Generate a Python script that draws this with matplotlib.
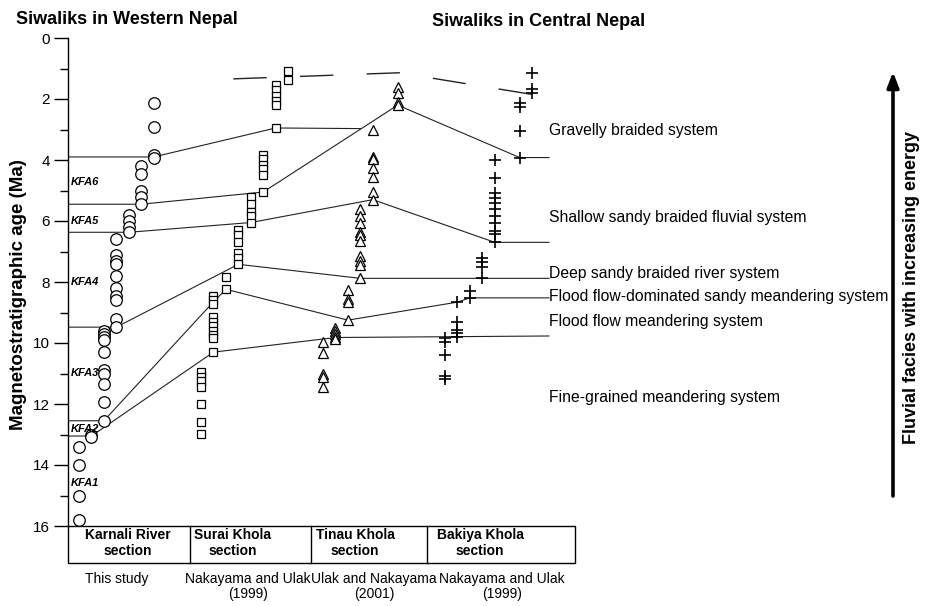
import matplotlib
matplotlib.use("Agg")
import matplotlib.pyplot as plt

plt.rcParams['font.family'] = ['Liberation Sans', 'DejaVu Sans']

# ---------------- data (ages in Ma) ----------------
# each section: list of sub-columns (left -> right), each a list of ages
karnali_cols = [
    [13.4, 14.0, 15.0, 15.8],
    [13.0, 13.07],
    [9.6, 9.7, 9.8, 9.9, 10.3, 10.9, 11.0, 11.35, 11.95, 12.55],
    [6.6, 7.1, 7.3, 7.4, 7.8, 8.2, 8.45, 8.6, 9.2, 9.48],
    [5.8, 6.0, 6.2, 6.37],
    [4.2, 4.45, 5.0, 5.2, 5.45],
    [2.12, 2.93, 3.82, 3.95],
]
surai_cols = [
    [10.95, 11.1, 11.25, 11.45, 12.0, 12.6, 12.98],
    [8.47, 8.6, 8.72, 9.15, 9.3, 9.45, 9.6, 9.75, 9.85, 10.3],
    [7.85, 8.24],
    [6.3, 6.45, 6.7, 7.05, 7.2, 7.42],
    [5.2, 5.45, 5.7, 5.85, 6.05],
    [3.82, 3.97, 4.15, 4.3, 4.5, 5.05],
    [1.55, 1.72, 1.9, 2.05, 2.2, 2.95],
    [1.08, 1.37],
]
tinau_cols = [
    [9.97, 10.33, 11.0, 11.1, 11.43],
    [9.5, 9.6, 9.7, 9.8, 9.87],
    [8.27, 8.57, 8.66, 9.25],
    [5.6, 5.85, 6.05, 6.35, 6.45, 6.65, 7.15, 7.3, 7.45, 7.88],
    [3.0, 3.9, 3.98, 4.25, 4.55, 5.05, 5.3],
    [],
    [1.6, 1.8, 2.1, 2.2],
]
bakiya_cols = [
    [9.84, 9.97, 10.4, 11.08, 11.18],
    [8.66, 9.3, 9.57, 9.67, 9.8],
    [8.3, 8.52],
    [7.2, 7.35, 7.5, 7.88],
    [4.0, 4.58, 5.07, 5.24, 5.4, 5.62, 5.85, 6.05, 6.34, 6.44, 6.7],
    [],
    [2.13, 2.25, 3.04, 3.92],
    [1.15, 1.68, 1.8],
]

# facies boundaries: ages at successive anchor points
boundary_A_ages = [3.9, 3.9, 2.95, 2.97]
boundary_B_ages = [5.45, 5.45, 5.05, 2.2, 3.92, 3.92]
boundary_C_ages = [6.37, 6.37, 6.05, 5.3, 6.7, 6.7]
boundary_D_ages = [9.48, 9.48, 7.42, 7.88, 7.88]
boundary_E_ages = [12.55, 12.55, 8.65, 8.24, 9.25, 8.66, 8.52, 8.52]
boundary_F_ages = [13.05, 13.05, 10.3, 9.82, 9.77]
dashed_ages = [1.34, 1.14, 1.85]

kfa_labels = ['KFA6', 'KFA5', 'KFA4', 'KFA3', 'KFA2', 'KFA1']
kfa_ages = [4.72, 6.0, 8.0, 10.98, 12.82, 14.59]

facies_labels = ['Gravelly braided system',
                 'Shallow sandy braided fluvial system',
                 'Deep sandy braided river system',
                 'Flood flow-dominated sandy meandering system',
                 'Flood flow meandering system',
                 'Fine-grained meandering system']
facies_label_ages = [3.03, 5.9, 7.72, 8.48, 9.3, 11.78]

section_names = ['Karnali River\nsection', 'Surai Khola\nsection',
                 'Tinau Khola\nsection', 'Bakiya Khola\nsection']
sources = ['This study', 'Nakayama and Ulak\n(1999)',
           'Ulak and Nakayama\n(2001)', 'Nakayama and Ulak\n(1999)']
yticks = [0, 2, 4, 6, 8, 10, 12, 14, 16]

# ---------------- layout ----------------
W, H = 927, 606
fig = plt.figure(figsize=(W / 100, H / 100), dpi=100)
AX_X, Y0, Y16 = 68, 38, 526
ax = fig.add_axes([AX_X / W, 1 - Y16 / H, (W - AX_X) / W, (Y16 - Y0) / H])
ax.set_xlim(AX_X, W)
ax.set_ylim(16, 0)
ov = fig.add_axes([0, 0, 1, 1], zorder=-1)
ov.set_xlim(0, W)
ov.set_ylim(H, 0)
ov.axis('off')

base = {'K': 79, 'S': 201, 'T': 323, 'B': 445}
STEP = 12.45
LABEL_X = 549


def cx(sec, k):
    if sec == 'axis':
        return AX_X
    if sec == 'end':
        return LABEL_X
    return base[sec] + STEP * k


def plot_cols(cols, sec, **kw):
    for k, ages in enumerate(cols):
        if ages:
            ax.plot([cx(sec, k)] * len(ages), ages, linestyle='none',
                    markerfacecolor='white', markeredgecolor='black',
                    clip_on=False, zorder=3, **kw)


plot_cols(karnali_cols, 'K', marker='o', markersize=8.3, markeredgewidth=0.9)
plot_cols(surai_cols, 'S', marker='s', markersize=6.3, markeredgewidth=0.9)
plot_cols(tinau_cols, 'T', marker='^', markersize=7, markeredgewidth=0.9)
for k, ages in enumerate(bakiya_cols):
    if ages:
        ax.plot([cx('B', k)] * len(ages), ages, linestyle='none', marker='+',
                markersize=9, markeredgewidth=1.2, color='black', zorder=3)

# boundaries
nodes_A = [('axis', 0), ('K', 6), ('S', 6), ('T', 3)]
nodes_B = [('axis', 0), ('K', 5), ('S', 5), ('T', 6), ('B', 6), ('end', 0)]
nodes_C = [('axis', 0), ('K', 4), ('S', 4), ('T', 4), ('B', 4), ('end', 0)]
nodes_D = [('axis', 0), ('K', 3), ('S', 3), ('T', 3), ('end', 0)]
nodes_E = [('axis', 0), ('K', 2), ('S', 1), ('S', 2), ('T', 2), ('B', 1), ('B', 2), ('end', 0)]
nodes_F = [('axis', 0), ('K', 1), ('S', 1), ('T', 1), ('end', 0)]
for nodes, ages in [(nodes_A, boundary_A_ages), (nodes_B, boundary_B_ages),
                    (nodes_C, boundary_C_ages), (nodes_D, boundary_D_ages),
                    (nodes_E, boundary_E_ages), (nodes_F, boundary_F_ages)]:
    ax.plot([cx(s, k) for s, k in nodes], ages, color='#222222', lw=0.8, zorder=2)

nodes_dash = [('S', 2.6), ('T', 6.1), ('B', 7)]
ax.plot([cx(s, k) for s, k in nodes_dash], dashed_ages, color='#222222', lw=1.0,
        linestyle=(0, (24, 24)), zorder=2)

# axis styling
for sp in ['top', 'right', 'bottom']:
    ax.spines[sp].set_visible(False)
ax.spines['left'].set_linewidth(1.0)
ax.set_yticks(yticks)
ax.set_yticks([1, 3, 5, 7, 9, 11, 13, 15], minor=True)
ax.tick_params(axis='y', which='major', length=10, width=1.0, labelsize=11, pad=3)
ax.tick_params(axis='y', which='minor', length=6, width=1.0)
ax.set_xticks([])
ax.patch.set_alpha(0)
ov.text(19, 295, 'Magnetostratigraphic age (Ma)', rotation=90, fontsize=13.5,
        fontweight='bold', ha='center', va='center')

# KFA labels
for lab, a in zip(kfa_labels, kfa_ages):
    ax.text(AX_X + 3, a, lab, fontsize=8, fontweight='bold', fontstyle='italic',
            va='center', ha='left', zorder=4)

# facies labels
for lab, a in zip(facies_labels, facies_label_ages):
    ax.text(LABEL_X, a, lab, fontsize=11.3, va='center', ha='left', clip_on=False)

# titles
ov.text(16, 19, 'Siwaliks in Western Nepal', fontsize=13, fontweight='bold', va='center', ha='left')
ov.text(432, 22, 'Siwaliks in Central Nepal', fontsize=13, fontweight='bold', va='center', ha='left')

# table
tab_x = [AX_X, 190, 311, 427, 575]
TT, TB = 526, 563
ov.plot([tab_x[0], tab_x[-1], tab_x[-1], tab_x[0], tab_x[0]], [TT, TT, TB, TB, TT],
        color='black', lw=1.0)
for xv in tab_x[1:-1]:
    ov.plot([xv, xv], [TT, TB], color='black', lw=1.0)
name_cx = [128, 233, 355, 480]
for nm, x in zip(section_names, name_cx):
    ov.text(x, 543, nm, fontsize=10, fontweight='bold', ha='center', va='center',
            linespacing=1.15)
src_cx = [117, 248, 374, 502]
for s, x in zip(sources, src_cx):
    ov.text(x, 572, s, fontsize=10, ha='center', va='top', linespacing=1.05)

# right arrow and label
ov.annotate('', xy=(893, 72), xytext=(893, 496),
            arrowprops=dict(arrowstyle='-|>,head_length=0.9,head_width=0.35',
                            lw=2.6, color='black', shrinkA=0, shrinkB=0))
ov.text(912, 288, 'Fluvial facies with increasing energy', rotation=90,
        fontsize=13, fontweight='bold', ha='center', va='center')

fig.savefig('out.png', dpi=100)
